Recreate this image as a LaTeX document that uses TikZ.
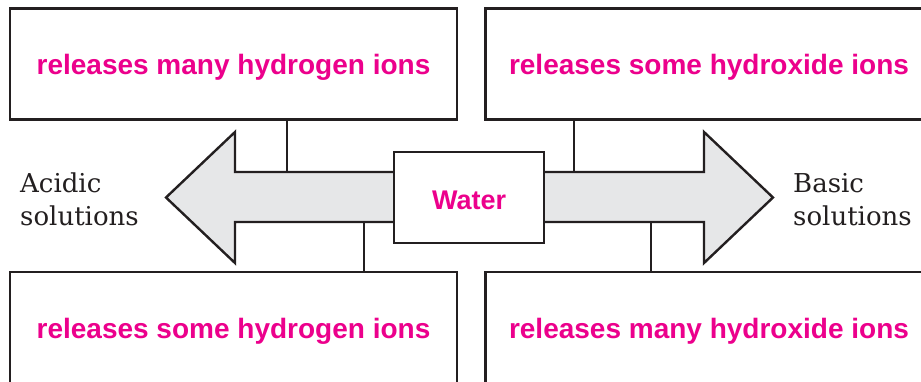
\documentclass[tikz,border=0pt]{standalone}
\usepackage{fontspec}
\newfontfamily\labelfont{Liberation Sans}
\newfontfamily\sideserif{DejaVu Serif}
\definecolor{pinktext}{HTML}{EC008C}
\definecolor{linecol}{HTML}{231F20}
\definecolor{arrowfill}{HTML}{E6E7E8}
\tikzset{
  infobox/.style={draw=linecol, line width=2.4pt, fill=white, minimum width=447pt, minimum height=111pt, inner sep=0pt,
    text height=26pt, text depth=4pt,
    font=\labelfont\bfseries\fontsize{28}{30}\selectfont, text=pinktext},
  waterbox/.style={draw=linecol, line width=2.4pt, fill=white, minimum width=150pt, minimum height=90.5pt, inner sep=0pt,
    text height=23pt, text depth=0pt,
    font=\labelfont\bfseries\fontsize{27}{30}\selectfont, text=pinktext},
  bigarrow/.style={draw=linecol, line width=2.4pt, fill=arrowfill, line join=miter},
  connector/.style={draw=linecol, line width=2pt},
  sidelabel/.style={inner sep=0pt, align=left, text=linecol, font=\sideserif\fontsize{26}{32.4}\selectfont}
}
\begin{document}
\begin{tikzpicture}[x=1pt, y=-1pt]
\useasboundingbox (0,0) rectangle (921,381);
% boxes
\node[infobox] (tl) at (233.5,63.8) {releases many hydrogen ions};
\node[infobox] (tr) at (709,63.8) {releases some hydroxide ions};
\node[infobox] (bl) at (233.5,327.5) {releases some hydrogen ions};
\node[infobox] (br) at (709,327.5) {releases many hydroxide ions};
% water box position
\coordinate (wc) at (469.2,197.5);
% arrow attachment coordinates
\coordinate (acidtop) at (287,172);
\coordinate (acidbot) at (364,222);
\coordinate (basetop) at (574,172);
\coordinate (basebot) at (651,222);
% connectors
\draw[connector] (tl.south -| acidtop) -- (acidtop);
\draw[connector] (bl.north -| acidbot) -- (acidbot);
\draw[connector] (tr.south -| basetop) -- (basetop);
\draw[connector] (br.north -| basebot) -- (basebot);
% arrows
\draw[bigarrow] (400,172) -- (235,172) -- (235,132) -- (166,197.5) -- (235,263) -- (235,222) -- (400,222) -- cycle;
\draw[bigarrow] (540,172) -- (704,172) -- (704,132) -- (773,197.5) -- (704,263) -- (704,222) -- (540,222) -- cycle;
% water
\node[waterbox] (water) at (wc) {Water};
% side labels
\node[sidelabel, anchor=west] (acid) at (20,199.5) {Acidic\\solutions};
\node[sidelabel, anchor=west] (base) at (793,199.5) {Basic\\solutions};
\end{tikzpicture}
\end{document}
